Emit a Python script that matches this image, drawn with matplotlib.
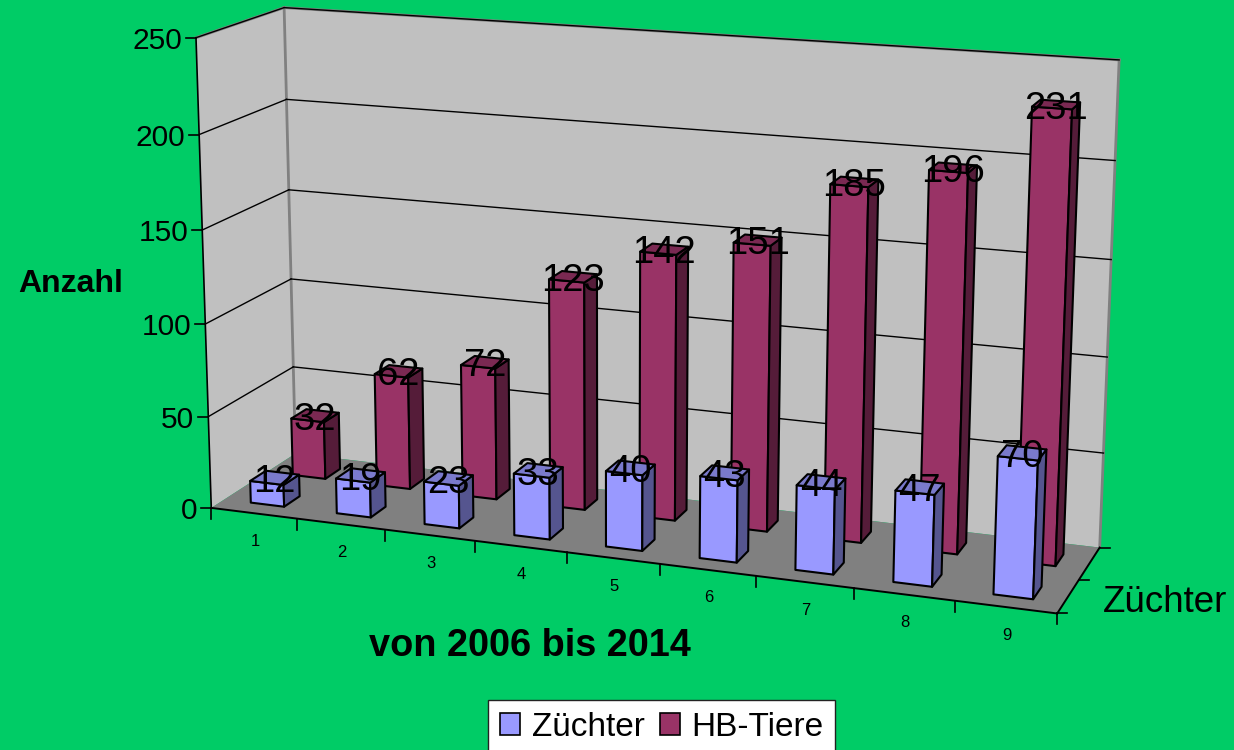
import numpy as np
import matplotlib
matplotlib.use("Agg")
import matplotlib.pyplot as plt
from matplotlib.patches import Polygon, Patch

# ---- data ----
categories = ["1", "2", "3", "4", "5", "6", "7", "8", "9"]
zuechter = [12, 19, 23, 33, 40, 43, 44, 47, 70]
hb_tiere = [32, 62, 72, 123, 142, 151, 185, 196, 231]
value_ticks = [0, 50, 100, 150, 200, 250]

BG = "#00CC66"
WALL = "#C0C0C0"
FLOOR = "#808080"
EDGE = "#808080"
COL_Z = ("#9999FF", "#7A7ACC", "#55558F")
COL_H = ("#993366", "#7A2952", "#551C39")

plt.rcParams["font.family"] = ["Liberation Sans", "DejaVu Sans"]

# ---- camera: fitted from the box corners of the chart (x=category, y=depth, z=value) ----
world = np.array([(0, 0, 0), (9, 0, 0), (9, 2, 0), (0, 2, 0),
                  (0, 0, 250), (0, 2, 250), (9, 2, 250), (0, 2, 200), (0, 0, 200)], float)
screen = np.array([(213.5, 507.7), (1057, 614), (1100, 547), (293, 454),
                   (194, 38), (285, 8), (1119, 60), (288, 99), (199, 134)], float)


def fit_camera(w, s):
    rows, rhs = [], []
    for (x, y, z), (u, v) in zip(w, s):
        rows.append([x, y, z, 1, 0, 0, 0, 0, -u * x, -u * y, -u * z])
        rhs.append(u)
        rows.append([0, 0, 0, 0, x, y, z, 1, -v * x, -v * y, -v * z])
        rhs.append(v)
    p = np.linalg.lstsq(np.array(rows), np.array(rhs), rcond=None)[0]
    return np.append(p, 1).reshape(3, 4)


CAM = fit_camera(world, screen)


def proj(x, y, z):
    q = CAM @ np.array([x, y, z, 1.0])
    return q[0] / q[2], q[1] / q[2]


fig = plt.figure(figsize=(12.34, 7.5), dpi=100, facecolor=BG)
ax = fig.add_axes([0, 0, 1, 1])
ax.set_xlim(0, 1234)
ax.set_ylim(750, 0)
ax.axis("off")


def face(pts, color, z=1, ec="black", lw=1.5):
    ax.add_patch(Polygon([proj(*p) for p in pts], closed=True, fc=color, ec=ec,
                         lw=lw, zorder=z, joinstyle="round"))


def line(a, b, color="black", lw=1.0, z=2):
    pa, pb = proj(*a), proj(*b)
    ax.plot([pa[0], pb[0]], [pa[1], pb[1]], color=color, lw=lw, zorder=z)


# ---- walls and floor ----
N = len(categories)
face([(0, 0, 0), (0, 2, 0), (0, 2, 250), (0, 0, 250)], WALL, ec="none")
face([(0, 2, 0), (N, 2, 0), (N, 2, 250), (0, 2, 250)], WALL, ec="none")
face([(0, 0, 0), (N, 0, 0), (N, 2, 0), (0, 2, 0)], FLOOR, ec="none")
line((0, 2, 0), (0, 2, 250), EDGE, 2)
line((0, 2, 250), (N, 2, 250), EDGE, 2)
line((N, 2, 250), (N, 2, 0), EDGE, 2)
line((0, 0, 250), (0, 2, 250), EDGE, 2)

for v in value_ticks[1:]:
    line((0, 0, v), (0, 2, v))
    line((0, 2, v), (N, 2, v))


# ---- bars ----
def bar(i, y0, y1, val, cols, z):
    x0, x1 = i + 0.31, i + 0.70
    face([(x0, y0, 0), (x1, y0, 0), (x1, y0, val), (x0, y0, val)], cols[0], z)
    face([(x1, y0, 0), (x1, y1, 0), (x1, y1, val), (x1, y0, val)], cols[2], z)
    face([(x0, y0, val), (x1, y0, val), (x1, y1, val), (x0, y1, val)], cols[1], z)


for i, v in enumerate(hb_tiere):
    bar(i, 1.3, 1.67, v, COL_H, 3)
for i, v in enumerate(zuechter):
    bar(i, 0.3, 0.67, v, COL_Z, 4)

# ---- axes ----
line((0, 0, 0), (N, 0, 0), lw=1.4, z=5)
line((N, 0, 0), (N, 2, 0), lw=1.4, z=5)
line((0, 0, 0), (0, 0, 250), lw=1.2, z=5)

for v in value_ticks:
    px, py = proj(0, 0, v)
    ax.plot([px - 10, px], [py, py], color="black", lw=1.2, zorder=5)
    ax.text(px - 14, py, str(v), ha="right", va="center_baseline", fontsize=21.5, zorder=6)

for i in range(N + 1):
    px, py = proj(i, 0, 0)
    ax.plot([px, px], [py, py + 11], color="black", lw=1.2, zorder=5)
for i, c in enumerate(categories):
    px, py = proj(i + 0.5, 0, 0)
    ax.text(px + 1, py + 28, c, ha="center", va="center", fontsize=12, zorder=6)
for d in range(3):
    px, py = proj(N, d, 0)
    ax.plot([px, px + 10], [py, py], color="black", lw=1.2, zorder=5)

# ---- data labels ----
for i, v in enumerate(hb_tiere):
    px, py = proj(i + 0.51, 1.5, v)
    ax.text(px - 1, py + 4.5, str(v), ha="center", va="center", fontsize=27.5, zorder=7)
for i, v in enumerate(zuechter):
    px, py = proj(i + 0.51, 0.5, v)
    ax.text(px - 1, py + 4.5, str(v), ha="center", va="center", fontsize=27.5, zorder=7)

# ---- titles ----
ax.text(70.5, 284, "Anzahl", ha="center", va="center", fontsize=23, fontweight="bold")
ax.text(529.5, 646, "von 2006 bis 2014", ha="center", va="center", fontsize=27.3, fontweight="bold")
ax.text(1165, 602, "Züchter", ha="center", va="center", fontsize=26.5)

# ---- legend ----
handles = [Patch(fc=COL_Z[0], ec="black", lw=1.2, label="Züchter"),
           Patch(fc=COL_H[0], ec="black", lw=1.2, label="HB-Tiere")]
ax.legend(handles=handles, ncol=2, loc="upper left", bbox_to_anchor=(488, 700),
          bbox_transform=ax.transData, fontsize=24, fancybox=False, framealpha=1,
          facecolor="white", edgecolor="#222222", handlelength=0.6, handleheight=0.6,
          handletextpad=0.36, columnspacing=0.45, borderaxespad=0, borderpad=0.35)

fig.savefig("out.png", dpi=100, facecolor=BG)
